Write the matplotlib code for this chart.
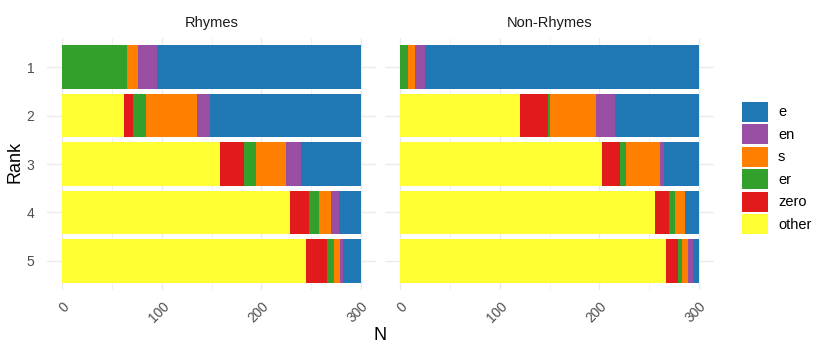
import matplotlib
matplotlib.use("Agg")
import matplotlib.pyplot as plt
from matplotlib.patches import Patch
import numpy as np

plt.rcParams['font.family'] = ['Liberation Sans', 'DejaVu Sans']

# --- data (counts per rank) ---
ranks = [1, 2, 3, 4, 5]
facets = ["Rhymes", "Non-Rhymes"]
categories = ["other", "zero", "er", "s", "en", "e"]   # stacking order, left -> right
colors = {"e": "#1F78B4", "en": "#984EA3", "s": "#FF7F00",
          "er": "#33A02C", "zero": "#E31A1C", "other": "#FFFF33"}

rhymes = {
    "other": [0, 62, 159, 229, 245],
    "zero":  [0, 9, 24, 19, 21],
    "er":    [65, 13, 12, 10, 7],
    "s":     [11, 51, 30, 12, 6],
    "en":    [19, 13, 15, 8, 3],
    "e":     [205, 152, 60, 22, 18],
}
non_rhymes = {
    "other": [0, 120, 203, 256, 267],
    "zero":  [0, 28, 18, 14, 12],
    "er":    [8, 3, 6, 6, 4],
    "s":     [7, 46, 34, 10, 6],
    "en":    [10, 19, 4, 0, 5],
    "e":     [275, 84, 35, 14, 6],
}
panels = [rhymes, non_rhymes]

# --- layout in pixels ---
W, H = 830, 356
fig = plt.figure(figsize=(W / 100, H / 100), dpi=100)
panel_x = [(47, 376), (385, 714)]
ptop, pbot = 38, 290

txt_gray = "#4D4D4D"
grid_col = "#EBEBEB"

for i, (data, title) in enumerate(zip(panels, facets)):
    x0, x1 = panel_x[i]
    ax = fig.add_axes([x0 / W, (H - pbot) / H, (x1 - x0) / W, (pbot - ptop) / H])
    left = np.zeros(len(ranks))
    for cat in categories:
        vals = np.array(data[cat], dtype=float)
        ax.barh(ranks, vals, left=left, height=0.9, color=colors[cat],
                linewidth=0, zorder=3)
        left += vals
    ax.set_xlim(-15, 315)
    ax.set_ylim(5.6, 0.4)
    ax.set_xticks([0, 100, 200, 300])
    ax.set_xticks([50, 150, 250], minor=True)
    ax.set_yticks(ranks)
    ax.grid(True, which="major", color=grid_col, linewidth=1.0, zorder=0)
    ax.grid(True, which="minor", axis="x", color=grid_col, linewidth=0.5, zorder=0)
    for s in ax.spines.values():
        s.set_visible(False)
    ax.tick_params(which="both", length=0)
    ax.tick_params(axis="x", labelsize=9.8, labelcolor=txt_gray, pad=7)
    ax.tick_params(axis="y", labelsize=10, labelcolor=txt_gray, pad=9)
    plt.setp(ax.get_xticklabels(), rotation=45, ha="right", va="top",
             rotation_mode="anchor")
    if i == 0:
        ax.set_yticklabels([str(r) for r in ranks])
    else:
        ax.set_yticklabels([])
    fig.text((x0 + x1) / 2 / W, (H - 23) / H, title, ha="center", va="center",
             fontsize=10.5, color="#1A1A1A")

fig.text(15 / W, (H - 162) / H, "Rank", rotation=90, ha="center", va="center",
         fontsize=13, color="black")
fig.text(380 / W, (H - 336) / H, "N", ha="center", va="center",
         fontsize=13, color="black")

handles = [Patch(facecolor=colors[c], edgecolor="none") for c in categories[::-1]]
fig.legend(handles, categories[::-1], loc="center left",
           bbox_to_anchor=(742 / W, (H - 168) / H), frameon=False,
           fontsize=10.5, handlelength=1.78, handleheight=1.78,
           labelspacing=0.14, handletextpad=0.68, borderpad=0, borderaxespad=0)

fig.savefig("out.png", dpi=100)
